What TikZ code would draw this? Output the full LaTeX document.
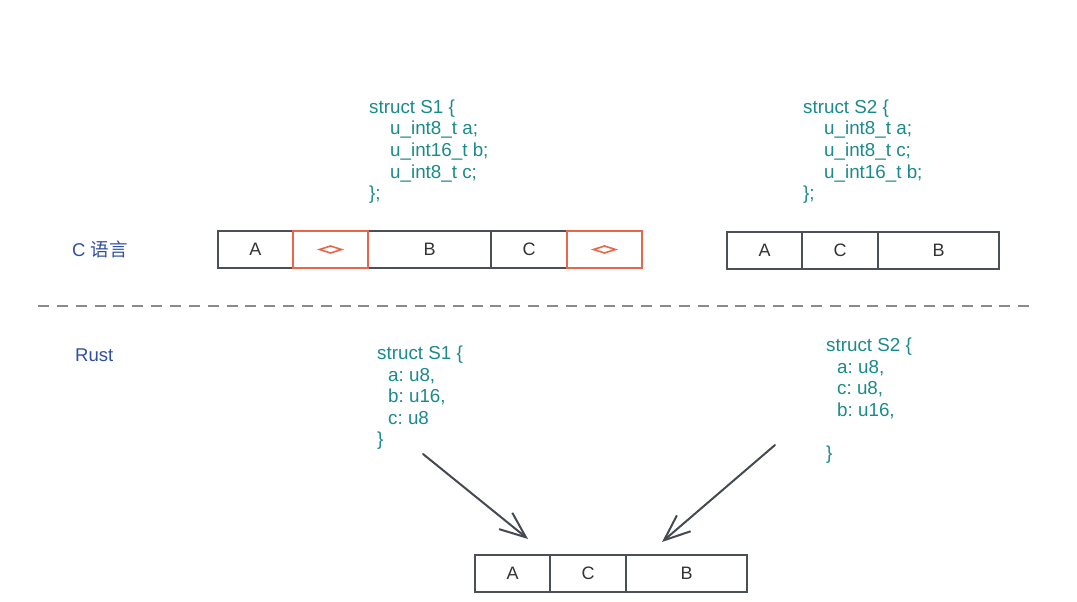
\documentclass[tikz,border=0pt]{standalone}
\usepackage{fontspec}
\setmainfont{Liberation Sans}
\newfontfamily\cjk{Noto Sans CJK SC}
\usetikzlibrary{arrows.meta,calc}
\frenchspacing
\definecolor{codeteal}{HTML}{1B8A8C}
\definecolor{lblblue}{HTML}{2F4FA0}
\definecolor{boxgray}{HTML}{4B5058}
\definecolor{padred}{HTML}{E8674A}
\definecolor{txtdark}{HTML}{333333}
\definecolor{arrowgray}{HTML}{454A52}
\definecolor{dashgray}{HTML}{8A8A8A}
\tikzset{
  field/.style={draw=boxgray, line width=2pt, minimum height=37pt, inner sep=0pt, font=\fontsize{18}{21.5}\selectfont, text=txtdark, anchor=west},
  padbox/.style={field, draw=padred},
  code/.style={anchor=base west, inner sep=0pt, font=\fontsize{18.8}{21.5}\selectfont, text=codeteal},
  lbl/.style={anchor=base west, inner sep=0pt, font=\fontsize{18.5}{21.5}\selectfont, text=lblblue},
  moveto/.style={draw=arrowgray, line width=2pt, line cap=round, -{Straight Barb[length=26pt,width=21pt,line width=2pt]}},
  padmark/.style={draw=padred, line width=1.6pt, line join=miter}
}
\begin{document}
\begin{tikzpicture}[x=1pt,y=-1pt]
\useasboundingbox[fill=white] (0,0) rectangle (1077,602);

% labels
\node[lbl] (clbl) at (72,256.5) {C {\cjk 语言}};
\node[lbl] (rlbl) at (75,361.5) {Rust};

% separator
\draw[dashgray, line width=2.6pt, dash pattern=on 11pt off 7.85pt] (38,306) coordinate (sepL) -- (1029.5,306) coordinate (sepR);

% C struct S1
\node[code] (cs1a) at (369,113.5) {struct S1 \{};
\node[code] (cs1b) at (390,135) {u\_int8\_t a;};
\node[code] (cs1c) at (390,156.5) {u\_int16\_t b;};
\node[code] (cs1d) at (390,178) {u\_int8\_t c;};
\node[code] (cs1e) at (369,199.5) {\};};

% C struct S2
\node[code] (cs2a) at (803,113.5) {struct S2 \{};
\node[code] (cs2b) at (824,135) {u\_int8\_t a;};
\node[code] (cs2c) at (824,156.5) {u\_int8\_t c;};
\node[code] (cs2d) at (824,178) {u\_int16\_t b;};
\node[code] (cs2e) at (803,199.5) {\};};

% C S1 layout
\node[field, minimum width=75pt] (c1A) at (217,249.5) {A};
\node[field, minimum width=123pt] (c1B) at (367,249.5) {B};
\node[field, minimum width=76pt] (c1C) at (490,249.5) {C};
\node[padbox, minimum width=75pt] (c1P1) at (292,249.5) {};
\node[padbox, minimum width=75pt] (c1P2) at (566,249.5) {};
\draw[padmark] ($(c1P1.center)+(-11,0)$) -- ++(11,-3.5) -- ++(11,3.5) -- ++(-11,3.5) -- cycle;
\draw[padmark] ($(c1P2.center)+(-11,0)$) -- ++(11,-3.5) -- ++(11,3.5) -- ++(-11,3.5) -- cycle;

% C S2 layout
\node[field, minimum width=75pt] (c2A) at (726,250.5) {A};
\node[field, minimum width=76pt] (c2C) at (801,250.5) {C};
\node[field, minimum width=121pt] (c2B) at (877,250.5) {B};

% Rust struct S1
\node[code] (rs1a) at (377,359.5) {struct S1 \{};
\node[code] (rs1b) at (388,381) {a: u8,};
\node[code] (rs1c) at (388,402.5) {b: u16,};
\node[code] (rs1d) at (388,424) {c: u8};
\node[code] (rs1e) at (377,445.5) {\}};

% Rust struct S2
\node[code] (rs2a) at (826,351.5) {struct S2 \{};
\node[code] (rs2b) at (837,373) {a: u8,};
\node[code] (rs2c) at (837,394.5) {c: u8,};
\node[code] (rs2d) at (837,416) {b: u16,};
\node[code] (rs2e) at (826,459) {\}};

% Rust layout
\node[field, minimum width=75pt] (rA) at (474,573.5) {A};
\node[field, minimum width=76pt] (rC) at (549,573.5) {C};
\node[field, minimum width=121pt] (rB) at (625,573.5) {B};

% arrows
\coordinate (l1) at (423,454);
\coordinate (l2) at (528,539);
\coordinate (r1) at (775,445);
\coordinate (r2) at (662,542);
\draw[moveto] (l1) -- (l2);
\draw[moveto] (r1) -- (r2);
\end{tikzpicture}
\end{document}
